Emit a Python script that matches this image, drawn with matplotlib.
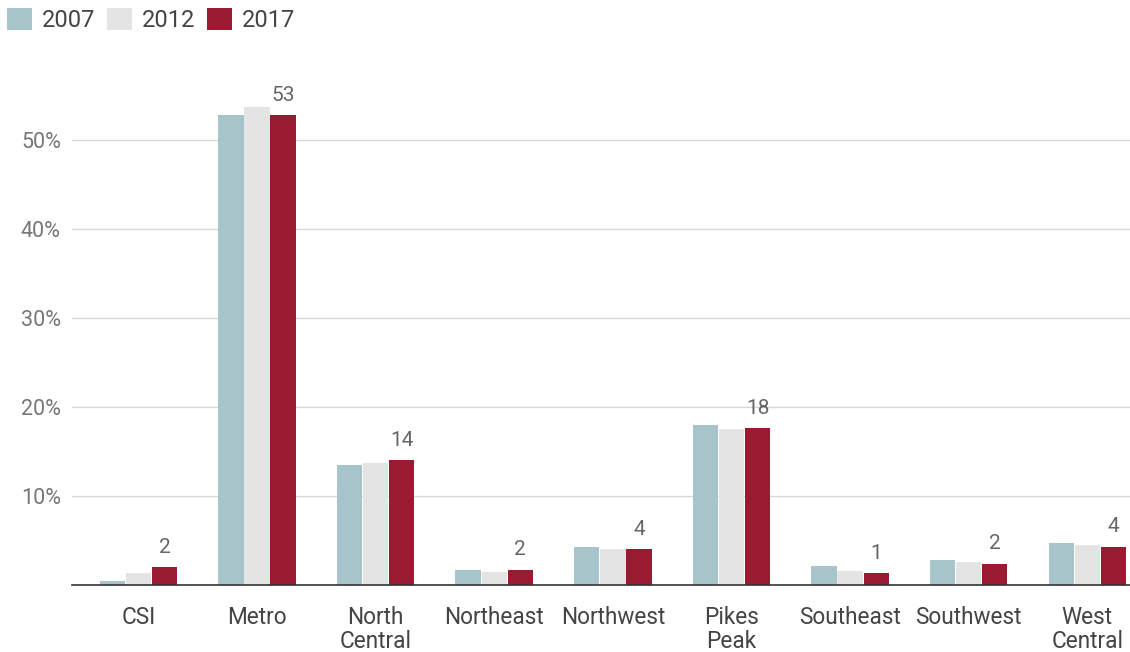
import matplotlib.pyplot as plt
import numpy as np

plt.rcParams['font.family'] = ['Roboto', 'DejaVu Sans']

regions = ["CSI", "Metro", "North\nCentral", "Northeast", "Northwest",
           "Pikes\nPeak", "Southeast", "Southwest", "West\nCentral"]
years = ["2007", "2012", "2017"]
share_2007 = [0.45, 52.8, 13.5, 1.7, 4.3, 18.0, 2.1, 2.8, 4.7]
share_2012 = [1.35, 53.7, 13.7, 1.5, 4.0, 17.5, 1.6, 2.6, 4.5]
share_2017 = [2.0, 52.8, 14.0, 1.7, 4.0, 17.6, 1.3, 2.4, 4.3]
colors = ["#a6c4ca", "#e4e4e4", "#9a1a31"]

fig = plt.figure(figsize=(11.3, 6.52), dpi=100)
ax = fig.add_axes([0.0637, 0.1028, 0.9363, 0.7507])

x = np.arange(len(regions))
w = 0.22
for i, (vals, yr) in enumerate(zip([share_2007, share_2012, share_2017], years)):
    ax.bar(x + (i - 1) * w, vals, w * 0.97, color=colors[i], label=yr, zorder=3)

# value labels above the latest year
for xi, v in zip(x, share_2017):
    ax.annotate(f"{v:.0f}", (xi + w, v), xytext=(0, 7.5), textcoords="offset points",
                ha="center", va="bottom", fontsize=15, color="#666666")

ax.set_xlim(-0.56, len(regions) - 1 + 0.36)
ax.set_ylim(0, 55)
ax.set_yticks([10, 20, 30, 40, 50])
ax.set_yticklabels([f"{t}%" for t in [10, 20, 30, 40, 50]])
ax.set_xticks(x)
ax.set_xticklabels(regions, fontsize=16.3, color="#444444", linespacing=1.06)
ax.tick_params(axis="y", length=0, labelsize=15.5, labelcolor="#777777", pad=8)
ax.tick_params(axis="x", length=0, pad=15)
ax.grid(axis="y", color="#d8d8d8", linewidth=1, zorder=0)
for s in ["top", "right", "left"]:
    ax.spines[s].set_visible(False)
ax.spines["bottom"].set_color("#333333")
ax.spines["bottom"].set_linewidth(1.2)
ax.spines["bottom"].set_zorder(4)

fig.legend(loc="center left", bbox_to_anchor=(0.0, 0.970), ncol=3, frameon=False,
           fontsize=17, handlelength=1.06, handleheight=1.06, handletextpad=0.42,
           columnspacing=0.5, borderaxespad=0, borderpad=0.3, labelcolor="#444444")

fig.savefig("out.png", dpi=100)
